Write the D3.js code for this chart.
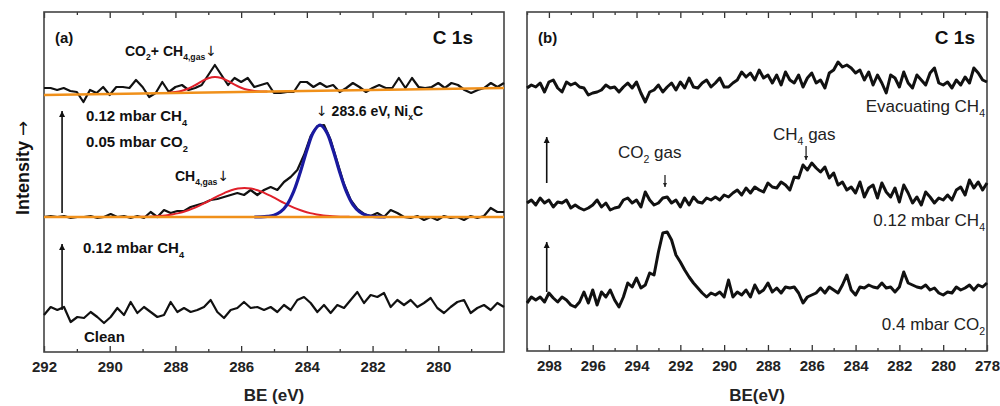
<!DOCTYPE html>
<html>
<head>
<meta charset="utf-8">
<script src="https://cdn.jsdelivr.net/npm/d3@7/dist/d3.min.js"></script>
<style>
  body { margin: 0; background: #fff; }
  svg text { font-family: "Liberation Sans", Arial, sans-serif; }
</style>
</head>
<body>
<svg id="chart" width="1000" height="406"></svg>
<script>
// ---- panel (a): C 1s, BE 292 -> 278 eV, even sampling across the range ----
const cleanA = [37,45,42,45,30,35,34,40,35,29, 35,44,37,50,39,45,40,35,37,50,
  40,44,40,42,45,52,40,34,42,44, 50,44,45,42,45,40,47,42,52,55,
  49,40,47,39,47,44,52,60,49,57, 55,59,45,52,47,52,45,49,54,44,
  39,45,50,52,39,44,47,42,49,45];
const ch4co2A = [135,136,135,136,134,135,135,136,134,135, 138,135,136,134,136,134,140,135,142,139,
  141,141,145,147,149,152,153,155,157,159, 157,162,157,162,165,162,170,175,182,197,
  216,226,227,212,190,168,152,143,138,136, 139,135,142,139,135,134,136,132,135,132,
  136,134,135,132,136,134,136,144,140,140];
const gasA = [264,264,262,264,261,260,250,262,259,265, 257,265,265,264,272,265,255,259,270,260,
  265,267,262,264,267,277,287,277,267,274, 270,274,265,267,269,259,259,260,260,270,
  270,265,269,265,267,260,264,269,265,260, 264,267,264,264,274,264,274,265,264,265,
  269,264,269,267,262,259,262,264,269,265, 269];
// fitted components (a), 0.2 eV step starting at given BE
const redTopStart = 288.4;
const redTopA = [258.9,259.2,259.9,261.2,263.5,266.8,270.7,273.8,275.1,274.0,271.1,267.4,264.3,262.2,261.1,260.6,260.5];
const redMidStart = 289.1;
const redMidA = [135.2,135.3,135.6,136.0,136.6,137.6,138.9,140.7,143.1,145.9,149.1,152.6,156.1,159.2,161.8,163.4,164.0,
  163.4,161.8,159.2,156.1,152.6,149.1,145.9,143.1,140.7,138.9,137.6,136.6,136.0,135.6,135.3,135.2];
const blueMidStart = 285.6;
const blueMidA = [135.0,135.1,135.6,136.8,140.2,147.4,160.6,179.8,201.8,219.9,227.0,219.9,201.8,179.8,160.6,147.4,140.2,136.8,135.6,135.1,135.0];
const baseTopA = [257, 264];   // at 292 and 278 eV
const baseMidA = [135, 135];
const ticksA = [292, 290, 288, 286, 284, 282, 280];
const minorA = [291, 289, 287, 285, 283, 281, 279];

// ---- panel (b): C 1s, BE 299 -> 278 eV ----
const co2B = [48,54,51,54,49,58,53,49,54,51, 46,44,49,59,48,61,46,59,54,61,
  51,44,54,68,64,73,63,66,78,76, 99,118,119,111,96,89,81,74,68,63,
  58,54,58,56,59,54,71,54,59,56, 61,54,66,58,61,68,59,63,58,64,
  63,64,58,48,54,56,58,63,58,64, 61,58,66,76,61,56,64,63,66,64,
  63,68,63,64,59,64,79,68,66,64, 63,66,61,63,58,56,59,58,64,61,
  63,66,61,66,64,68];
const ch4B = [148,151,146,153,148,151,144,149,148,151, 143,146,143,141,143,146,151,144,148,141,
  143,144,151,153,148,151,144,159,151,146, 148,153,154,148,151,144,153,146,154,149,
  148,153,151,154,151,156,154,158,161,156, 163,158,164,161,159,168,164,163,169,166,
  161,174,173,186,181,188,183,179,184,173, 178,166,169,161,164,158,169,154,163,166,
  153,168,159,154,163,149,166,158,148,154, 146,159,154,148,153,151,156,151,161,164,
  156,171,163,169,161,168];
const evacB = [263,266,264,268,259,269,271,263,259,269, 266,268,264,263,256,258,259,261,266,263,
  264,259,264,268,263,269,258,249,259,261, 266,259,264,268,261,269,263,273,264,263,
  268,271,264,268,273,264,264,268,271,279, 274,278,271,281,273,276,268,276,266,279,
  271,268,276,264,273,278,268,271,263,278, 281,289,284,286,283,278,281,271,279,266,
  276,268,258,276,273,264,279,268,263,276, 271,266,278,283,268,266,269,263,271,266,
  274,268,283,278,271,269];
const ticksB = [298, 296, 294, 292, 290, 288, 286, 284, 282, 280, 278];
const minorB = [299, 297, 295, 293, 291, 289, 287, 285, 283, 281, 279];

const svg = d3.select('#chart');
const ARROW_FONT = '"DejaVu Sans", sans-serif';

const defs = svg.append('defs');
defs.append('marker').attr('id', 'head').attr('viewBox', '0 0 10 10')
  .attr('refX', 10).attr('refY', 5).attr('markerWidth', 6).attr('markerHeight', 7)
  .attr('markerUnits', 'userSpaceOnUse').attr('orient', 'auto')
  .append('path').attr('d', 'M0,0L10,5L0,10z').attr('fill', '#111');
defs.append('marker').attr('id', 'headSmall').attr('viewBox', '0 0 10 10')
  .attr('refX', 10).attr('refY', 5).attr('markerWidth', 5).attr('markerHeight', 4)
  .attr('markerUnits', 'userSpaceOnUse').attr('orient', 'auto')
  .append('path').attr('d', 'M0,0L10,5L0,10z').attr('fill', '#222');

function makePanel(p) {
  const x = d3.scaleLinear().domain(p.be).range([p.left, p.right]);
  const y = d3.scaleLinear().domain([0, p.bottom - p.top]).range([p.bottom, p.top]);
  const g = svg.append('g');

  const fmt = d3.format('d');
  g.append('g').attr('transform', `translate(0,${p.bottom})`)
    .call(d3.axisBottom(x).tickValues(p.ticks).tickSizeInner(-6).tickSizeOuter(0).tickPadding(9).tickFormat(fmt))
    .call(a => a.select('.domain').remove())
    .call(a => a.selectAll('text').attr('font-size', 15).attr('font-weight', 'bold').attr('fill', '#222')
      .style('font-family', '"Liberation Sans", Arial, sans-serif'));
  g.append('g').attr('transform', `translate(0,${p.bottom})`)
    .call(d3.axisBottom(x).tickValues(p.minor).tickSizeInner(-3).tickSizeOuter(0).tickFormat(''))
    .call(a => a.select('.domain').remove());
  g.append('g').attr('transform', `translate(0,${p.top})`)
    .call(d3.axisTop(x).tickValues(p.ticks).tickSizeInner(-6).tickSizeOuter(0).tickFormat(''))
    .call(a => a.select('.domain').remove());
  g.append('g').attr('transform', `translate(0,${p.top})`)
    .call(d3.axisTop(x).tickValues(p.minor).tickSizeInner(-3).tickSizeOuter(0).tickFormat(''))
    .call(a => a.select('.domain').remove());
  g.selectAll('.tick line').attr('stroke', '#333').attr('stroke-width', 1.3);

  g.append('rect').attr('x', p.left).attr('y', p.top)
    .attr('width', p.right - p.left).attr('height', p.bottom - p.top)
    .attr('fill', 'none').attr('stroke', '#444').attr('stroke-width', 1.6);

  g.append('text').attr('x', (p.left + p.right) / 2).attr('y', 401)
    .attr('text-anchor', 'middle').attr('font-size', 17).attr('font-weight', 'bold')
    .attr('fill', '#222').text(p.xlabel);
  return { x, y, g };
}

// spectrum evenly spread over the full BE range
function spectrum(P, values, color, width) {
  const idx = d3.scaleLinear().domain([0, values.length - 1]).range(P.x.domain());
  P.g.append('path').datum(values)
    .attr('fill', 'none').attr('stroke', color).attr('stroke-width', width)
    .attr('stroke-linejoin', 'round')
    .attr('d', d3.line().x((d, i) => P.x(idx(i))).y(d => P.y(d)));
}

// fitted curve on a 0.2 eV grid from start
function fit(P, start, values, color, width) {
  P.g.append('path').datum(values)
    .attr('fill', 'none').attr('stroke', color).attr('stroke-width', width)
    .attr('d', d3.line().x((d, i) => P.x(start - i * 0.2)).y(d => P.y(d)).curve(d3.curveCatmullRom));
}

function baseline(P, values, color, width) {
  const be = P.x.domain();
  P.g.append('path').datum(values)
    .attr('fill', 'none').attr('stroke', color).attr('stroke-width', width)
    .attr('d', d3.line().x((d, i) => P.x(be[i])).y(d => P.y(d)));
}

function arrow(P, be, from, to, marker, width) {
  P.g.append('line').attr('x1', P.x(be)).attr('x2', P.x(be))
    .attr('y1', P.y(from)).attr('y2', P.y(to))
    .attr('stroke', '#111').attr('stroke-width', width)
    .attr('marker-end', `url(#${marker})`);
}

// text with "_" parts as subscripts, arrow glyphs in a font that has them
function label(P, x, y, parts, size, weight, anchor, fill) {
  const color = fill || '#111';
  const t = P.g.append('text').attr('x', x).attr('y', y)
    .attr('font-size', size).attr('font-weight', weight)
    .attr('text-anchor', anchor || 'start').attr('fill', color);
  let down = false;
  parts.forEach(s => {
    const sub = s.startsWith('_');
    const ts = t.append('tspan').text(sub ? s.slice(1) : s).attr('fill', color);
    if (s === '↓') ts.style('font-family', ARROW_FONT).attr('font-weight', 'normal');
    if (sub) {
      ts.attr('font-size', size * 0.62);
      if (!down) { ts.attr('dy', size * 0.3); down = true; }
    } else if (down) {
      ts.attr('dy', -size * 0.3); down = false;
    }
  });
}

// ---------- panel (a) ----------
const A = makePanel({ left: 44, right: 504, top: 12, bottom: 352, be: [292, 278],
  ticks: ticksA, minor: minorA, xlabel: 'BE (eV)' });

spectrum(A, cleanA, '#111', 2.2);
spectrum(A, ch4co2A, '#111', 2.2);
spectrum(A, gasA, '#111', 2.2);
fit(A, redMidStart, redMidA, '#e0202a', 2);
fit(A, blueMidStart, blueMidA, '#1a1aa0', 3.2);
fit(A, redTopStart, redTopA, '#e0202a', 2);
baseline(A, baseMidA, '#f0901a', 2.5);
baseline(A, baseTopA, '#f0901a', 2.5);

arrow(A, 291.45, 139, 241, 'head', 1.6);
arrow(A, 291.45, 42, 108, 'head', 1.6);

label(A, 55, 43, ['(a)'], 15, 'bold');
label(A, 473, 44, ['C 1s'], 19, 'bold', 'end');
label(A, 125, 56, ['CO', '_2', '+ CH', '_4,gas', '↓'], 14, 'bold');
label(A, 86, 121, ['0.12 mbar CH', '_4'], 15, 'bold');
label(A, 86, 147, ['0.05 mbar CO', '_2'], 15, 'bold');
label(A, 175, 181, ['CH', '_4,gas', '↓'], 14, 'bold');
label(A, 316, 116, ['↓', ' 283.6 eV, Ni', '_x', 'C'], 14, 'bold');
label(A, 83, 253, ['0.12 mbar CH', '_4'], 15, 'bold');
label(A, 84, 342, ['Clean'], 15, 'bold');

const yl = svg.append('text').attr('transform', 'translate(29,168) rotate(-90)')
  .attr('text-anchor', 'middle').attr('font-size', 18).attr('font-weight', 'bold')
  .attr('fill', '#111');
yl.append('tspan').text('Intensity ');
yl.append('tspan').style('font-family', ARROW_FONT).attr('font-weight', 'normal').attr('fill', '#111').text('\u2192');

// ---------- panel (b) ----------
const B = makePanel({ left: 527, right: 987, top: 12, bottom: 351, be: [299, 278],
  ticks: ticksB, minor: minorB, xlabel: 'BE(eV)' });

spectrum(B, co2B, '#111', 3);
spectrum(B, ch4B, '#111', 3);
spectrum(B, evacB, '#111', 3);

arrow(B, 298.1, 168, 214, 'head', 1.6);
arrow(B, 298.1, 59, 109, 'head', 1.6);
arrow(B, 292.7, 176, 164, 'headSmall', 1.2);
arrow(B, 286.26, 205, 191, 'headSmall', 1.2);

label(B, 538, 43, ['(b)'], 15, 'bold');
label(B, 975, 44, ['C 1s'], 19, 'bold', 'end');
label(B, 985, 112, ['Evacuating CH', '_4'], 17, 'normal', 'end', '#222');
label(B, 618, 158, ['CO', '_2', ' gas'], 17, 'normal', 'start', '#222');
label(B, 773, 140, ['CH', '_4', ' gas'], 17, 'normal', 'start', '#222');
label(B, 985, 226, ['0.12 mbar CH', '_4'], 17, 'normal', 'end', '#222');
label(B, 985, 330, ['0.4 mbar CO', '_2'], 17, 'normal', 'end', '#222');
</script>
</body>
</html>
